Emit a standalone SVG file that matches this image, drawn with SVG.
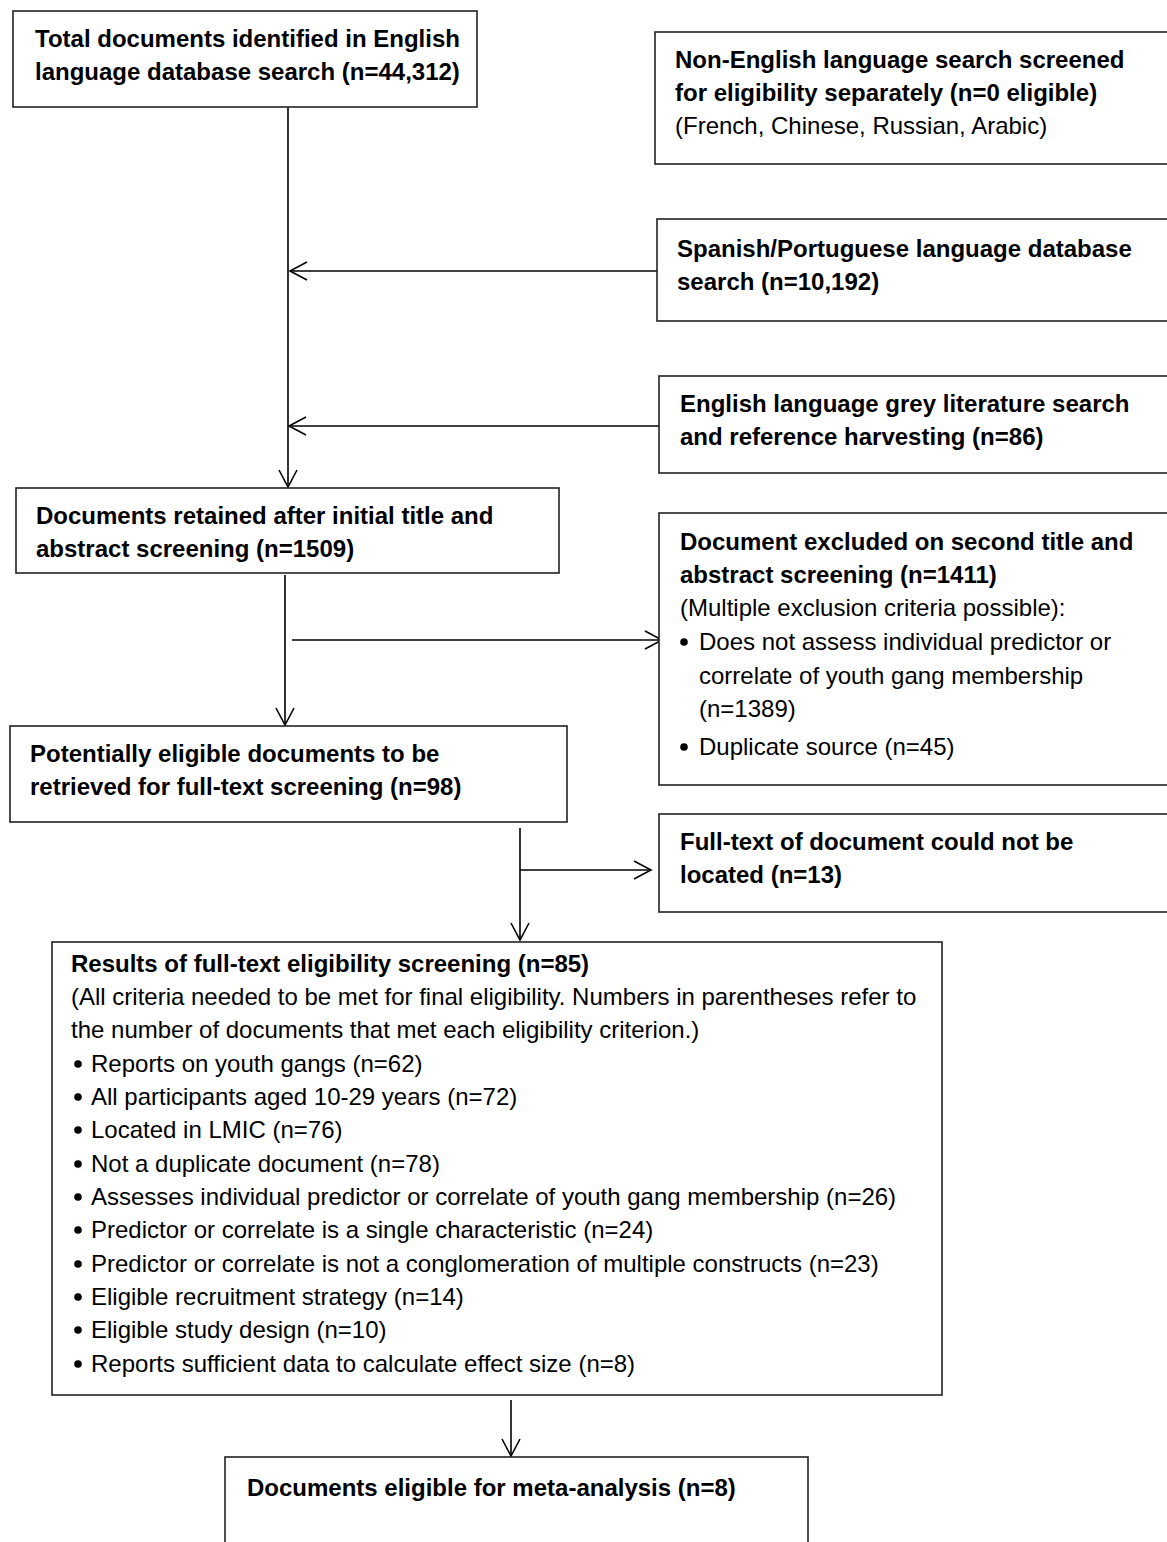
<svg xmlns="http://www.w3.org/2000/svg" width="1167" height="1542" viewBox="0 0 1167 1542">
<style>
.box{fill:#fff;stroke:#222;stroke-width:1.6}
.t{font-family:"Liberation Sans",Arial,sans-serif;font-size:24px;fill:#000}
.b{font-weight:bold}
.c{stroke:#000;stroke-width:1.6;fill:none}
</style>
<defs>
<marker id="ah" markerUnits="userSpaceOnUse" markerWidth="24" markerHeight="24" viewBox="-20 -12 24 24" refX="0" refY="0" orient="auto">
<path d="M-17,-9 L0,0 L-17,9" fill="none" stroke="#000" stroke-width="1.6"/>
</marker>
</defs>
<rect width="1167" height="1542" fill="#fff"/>
<g id="connectors">
<line class="c" x1="288" y1="107" x2="288" y2="487" marker-end="url(#ah)"/>
<line class="c" x1="657" y1="271" x2="290" y2="271" marker-end="url(#ah)"/>
<line class="c" x1="659" y1="426" x2="289" y2="426" marker-end="url(#ah)"/>
<line class="c" x1="285" y1="575" x2="285" y2="725" marker-end="url(#ah)"/>
<line class="c" x1="292" y1="640" x2="662" y2="640" marker-end="url(#ah)"/>
<line class="c" x1="520" y1="828" x2="520" y2="940" marker-end="url(#ah)"/>
<line class="c" x1="520" y1="870" x2="651" y2="870" marker-end="url(#ah)"/>
<line class="c" x1="511" y1="1400" x2="511" y2="1456" marker-end="url(#ah)"/>
</g>
<g id="n1">
<rect class="box" x="13" y="11" width="464" height="96"/>
<text class="t b" x="35" y="47">Total documents identified in English</text>
<text class="t b" x="35" y="80">language database search (n=44,312)</text>
</g>
<g id="n2">
<rect class="box" x="655" y="32" width="530" height="132"/>
<text class="t b" x="675" y="68">Non-English language search screened</text>
<text class="t b" x="675" y="101">for eligibility separately (n=0 eligible)</text>
<text class="t" x="675" y="134">(French, Chinese, Russian, Arabic)</text>
</g>
<g id="n3">
<rect class="box" x="657" y="219" width="530" height="102"/>
<text class="t b" x="677" y="257">Spanish/Portuguese language database</text>
<text class="t b" x="677" y="290">search (n=10,192)</text>
</g>
<g id="n4">
<rect class="box" x="659" y="376" width="530" height="97"/>
<text class="t b" x="680" y="412">English language grey literature search</text>
<text class="t b" x="680" y="445">and reference harvesting (n=86)</text>
</g>
<g id="n5">
<rect class="box" x="16" y="488" width="543" height="85"/>
<text class="t b" x="36" y="524">Documents retained after initial title and</text>
<text class="t b" x="36" y="557">abstract screening (n=1509)</text>
</g>
<g id="n6">
<rect class="box" x="659" y="513" width="530" height="272"/>
<text class="t b" x="680" y="550">Document excluded on second title and</text>
<text class="t b" x="680" y="583">abstract screening (n=1411)</text>
<text class="t" x="680" y="616">(Multiple exclusion criteria possible):</text>
<circle cx="684" cy="642" r="3.8"/>
<text class="t" x="699" y="650">Does not assess individual predictor or</text>
<text class="t" x="699" y="684">correlate of youth gang membership</text>
<text class="t" x="699" y="717">(n=1389)</text>
<circle cx="684" cy="747" r="3.8"/>
<text class="t" x="699" y="755">Duplicate source (n=45)</text>
</g>
<g id="n7">
<rect class="box" x="10" y="726" width="557" height="96"/>
<text class="t b" x="30" y="762">Potentially eligible documents to be</text>
<text class="t b" x="30" y="795">retrieved for full-text screening (n=98)</text>
</g>
<g id="n8">
<rect class="box" x="659" y="814" width="530" height="98"/>
<text class="t b" x="680" y="850">Full-text of document could not be</text>
<text class="t b" x="680" y="883">located (n=13)</text>
</g>
<g id="n9">
<rect class="box" x="52" y="942" width="890" height="453"/>
<text class="t b" x="71" y="972">Results of full-text eligibility screening (n=85)</text>
<text class="t" x="71" y="1005">(All criteria needed to be met for final eligibility. Numbers in parentheses refer to</text>
<text class="t" x="71" y="1038">the number of documents that met each eligibility criterion.)</text>
<g>
<circle cx="78" cy="1064" r="3.8"/>
<circle cx="78" cy="1097" r="3.8"/>
<circle cx="78" cy="1130" r="3.8"/>
<circle cx="78" cy="1164" r="3.8"/>
<circle cx="78" cy="1197" r="3.8"/>
<circle cx="78" cy="1230" r="3.8"/>
<circle cx="78" cy="1264" r="3.8"/>
<circle cx="78" cy="1297" r="3.8"/>
<circle cx="78" cy="1330" r="3.8"/>
<circle cx="78" cy="1364" r="3.8"/>
</g>
<text class="t" x="91" y="1072">Reports on youth gangs (n=62)</text>
<text class="t" x="91" y="1105">All participants aged 10-29 years (n=72)</text>
<text class="t" x="91" y="1138">Located in LMIC (n=76)</text>
<text class="t" x="91" y="1172">Not a duplicate document (n=78)</text>
<text class="t" x="91" y="1205">Assesses individual predictor or correlate of youth gang membership (n=26)</text>
<text class="t" x="91" y="1238">Predictor or correlate is a single characteristic (n=24)</text>
<text class="t" x="91" y="1272">Predictor or correlate is not a conglomeration of multiple constructs (n=23)</text>
<text class="t" x="91" y="1305">Eligible recruitment strategy (n=14)</text>
<text class="t" x="91" y="1338">Eligible study design (n=10)</text>
<text class="t" x="91" y="1372">Reports sufficient data to calculate effect size (n=8)</text>
</g>
<g id="n10">
<rect class="box" x="225" y="1457" width="583" height="110"/>
<text class="t b" x="247" y="1496">Documents eligible for meta-analysis (n=8)</text>
</g>
</svg>
